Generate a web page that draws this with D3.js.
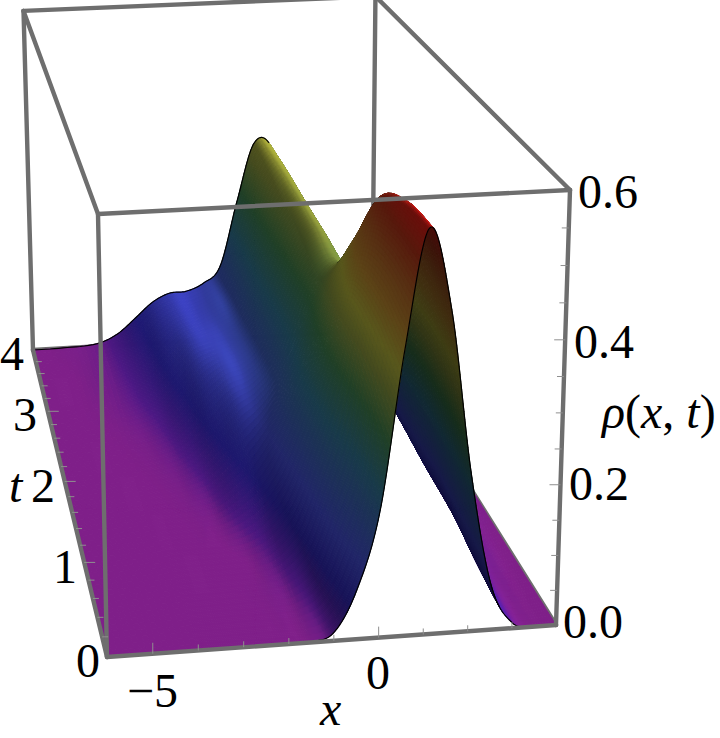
<!DOCTYPE html>
<html>
<head>
<meta charset="utf-8">
<script src="https://cdn.jsdelivr.net/npm/d3@7"></script>
<style>
  html, body { margin: 0; background: #fff; }
  text { font-family: "Liberation Serif", serif; font-size: 48px; fill: #000; }
</style>
</head>
<body>
<svg id="chart" width="720" height="738"></svg>
<script>
// grid the heights were read on
var xGrid = [-6,-5.5,-5,-4.5,-4,-3.5,-3,-2.5,-2,-1.5,-1,-0.5,0,0.5,1,1.5,2,2.5,3,3.5,4];
var tGrid = [0,0.5,1,1.5,2,2.5,3,3.5,4];

// rho(x,t), one array per t row
var rhoT00 = [0,0,0,0,0,0,0,0,0,.001,.012,.07,.18,.40,.56,.45,.225,.065,.008,0,0];
var rhoT05 = [0,0,0,0,0,0,0,0,.001,.006,.035,.12,.22,.42,.55,.47,.26,.08,.012,.001,0];
var rhoT10 = [0,0,0,0,0,0,0,0,.004,.022,.07,.16,.27,.41,.515,.45,.27,.1,.02,.003,0];
var rhoT15 = [0,0,0,0,0,0,.001,.005,.025,.055,.105,.175,.26,.35,.415,.39,.24,.09,.025,.005,.001];
var rhoT20 = [0,0,0,0,0,.001,.005,.02,.05,.085,.11,.15,.225,.295,.325,.30,.20,.09,.03,.008,.002];
var rhoT25 = [0,0,0,0,.001,.004,.015,.04,.075,.1,.11,.14,.22,.305,.335,.275,.18,.09,.035,.012,.004];
var rhoT30 = [0,0,0,.001,.004,.012,.03,.06,.09,.10,.11,.14,.23,.315,.34,.26,.16,.09,.04,.02,.008];
var rhoT35 = [0,0,0,.002,.006,.018,.04,.07,.09,.095,.11,.135,.235,.335,.345,.25,.15,.09,.05,.025,.01];
var rhoT40 = [0,0,.001,.002,.007,.022,.048,.075,.09,.092,.105,.135,.25,.352,.345,.24,.16,.11,.07,.04,.015];
var rhoRows = [rhoT00,rhoT05,rhoT10,rhoT15,rhoT20,rhoT25,rhoT30,rhoT35,rhoT40];

// height colour ramp
var colorRho = [0,.012,.05,.1,.2,.27,.33,.37,.42,.47,.52,.57];
var colorHex = ["#7d1f87","#5a1c98","#2c24a8","#3f48c8","#2f6f8c","#3d7a4a","#84903a","#aaa836","#b0802c","#a85c24","#a83018","#d81515"];

var xMinor = d3.range(-6,4.01,1);
var tMinor = d3.range(0,4.01,0.2);
var rhoMinor = d3.range(0,0.601,0.05);
var rhoMajor = [0,0.2,0.4,0.6];

var xScale = d3.scaleLinear().domain([-6,4]).range([0,1]);
var tScale = d3.scaleLinear().domain([0,4]).range([0,1]);
var rScale = d3.scaleLinear().domain([0,0.6]).range([0,1]);
var colorScale = d3.scaleLinear().domain(colorRho).range(colorHex).interpolate(d3.interpolateRgb);

// box corners on the page, projection is solved from them
var A = [107,657], B = [556,625], C = [33,350], D = [98,214], E = [570,190];
var pg = 0.0211, ph = 0.336, pi = -0.04935;
function sub(p,q){ return [p[0]-q[0],p[1]-q[1]]; }
function mul(p,k){ return [p[0]*k,p[1]*k]; }
var pb = sub(mul(B,1+pg),A), pc = sub(mul(C,1+ph),A), pd = sub(mul(D,1+pi),A);

function depth(u,v,w){ return 1+pg*u+ph*v+pi*w; }
function project(x,t,r)
{
	var u = xScale(x), v = tScale(t), w = rScale(r);
	var k = depth(u,v,w);
	return [(A[0]+pb[0]*u+pc[0]*v+pd[0]*w)/k, (A[1]+pb[1]*u+pc[1]*v+pd[1]*w)/k];
}

// Catmull-Rom through the read values, only to draw a smooth sheet
function spline(p0,p1,p2,p3,s)
{
	return 0.5*(2*p1+(p2-p0)*s+(2*p0-5*p1+4*p2-p3)*s*s+(3*p1-p0-3*p2+p3)*s*s*s);
}
function at(arr,i){ return arr[Math.max(0,Math.min(arr.length-1,i))]; }
function rhoAlongX(row,x)
{
	var f = (x-xGrid[0])/0.5, i = Math.max(0,Math.min(Math.floor(f),xGrid.length-2));
	return spline(at(row,i-1),at(row,i),at(row,i+1),at(row,i+2),f-i);
}
function rho(x,t)
{
	var f = t/0.5, j = Math.max(0,Math.min(Math.floor(f),tGrid.length-2)), s = f-j;
	var v = spline(rhoAlongX(at(rhoRows,j-1),x),rhoAlongX(at(rhoRows,j),x),rhoAlongX(at(rhoRows,j+1),x),rhoAlongX(at(rhoRows,j+2),x),s);
	return Math.max(0,v);
}

var svg = d3.select("#chart");
var boxColor = "#6e6e6e";
var line = d3.line();

function edge(layer,p,q)
{
	layer.append("path").attr("d",line([p,q])).attr("stroke",boxColor).attr("stroke-width",4.4)
		.attr("stroke-linecap","round").attr("fill","none");
}

var back = svg.append("g");
edge(back,project(-6,4,0),project(4,4,0));
edge(back,project(4,4,0),project(4,4,0.6));
edge(back,project(4,0,0),project(4,4,0));
edge(back,project(-6,4,0),project(-6,4,0.6));
edge(back,project(-6,4,0.6),project(4,4,0.6));

// surface cells, far ones first. finer where the sheet is steep
var dt = 1/16;
var xs = d3.range(-6,-4,1/8).concat(d3.range(-4,-1.5,1/24),d3.range(-1.5,3.5,1/48),d3.range(3.5,4+1/32,1/16));
var ts = d3.range(0,4+dt/2,dt);
var grid = ts.map(function(t){ return xs.map(function(x){ return rho(x,t); }); });
var L = [0.5,-0.1,0.85], V = [0,-0.7,0.7];
var cells = [];
var wide = 0.14;	// normals are taken over this width so the shading has no bands
for(var j = 0; j < ts.length-1; j++)
	for(var i = 0; i < xs.length-1; i++)
	{
		var r00 = grid[j][i], r10 = grid[j][i+1], r01 = grid[j+1][i], r11 = grid[j+1][i+1];
		var pts = [project(xs[i],ts[j],r00),project(xs[i+1],ts[j],r10),project(xs[i+1],ts[j+1],r11),project(xs[i],ts[j+1],r01)];
		var upper = d3.polygonArea(pts) > 0;
		var rm = (r00+r10+r01+r11)/4;
		var xa = Math.max(-6,xs[i]-wide), xb = Math.min(4,xs[i]+wide), ta = Math.max(0,ts[j]-wide), tb = Math.min(4,ts[j]+wide);
		var du = (rScale(rho(xb,ts[j]))-rScale(rho(xa,ts[j])))/(xScale(xb)-xScale(xa));
		var dv = (rScale(rho(xs[i],tb))-rScale(rho(xs[i],ta)))/(tScale(tb)-tScale(ta));
		var n = [-du,-dv,1], len = Math.hypot(n[0],n[1],n[2]);
		n = n.map(function(a){ return a/len*(upper?1:-1); });
		var lit = Math.max(0,n[0]*L[0]+n[1]*L[1]+n[2]*L[2]);
		var shade = (upper?0.52:0.36)+0.58*lit;
		if(upper && n[0] > 0) shade += 0.9*Math.pow(1-Math.max(0,n[0]*V[0]+n[1]*V[1]+n[2]*V[2]),4);
		var c = d3.rgb(colorScale(rm));
		var fill = d3.rgb(c.r*shade,c.g*shade,c.b*shade).formatHex();
		cells.push({d:"M"+pts.join("L")+"Z", fill:fill, z:depth(xScale(xs[i]),tScale(ts[j]),rScale(rm))});
	}
cells.sort(function(a,b){ return b.z-a.z; });

svg.append("g").selectAll("path").data(cells).enter().append("path")
	.attr("d",function(d){ return d.d; })
	.attr("fill",function(d){ return d.fill; })
	.attr("stroke",function(d){ return d.fill; })
	.attr("stroke-width",1);

// black boundary lines
var outline = svg.append("g").attr("fill","none").attr("stroke","#000").attr("stroke-width",1.2);
outline.append("path").attr("d",line(xs.map(function(x){ return project(x,0,rho(x,0)); })));
outline.append("path").attr("d",line(xs.filter(function(x){ return x <= 0.95; }).map(function(x){ return project(x,4,rho(x,4)); })));

var front = svg.append("g");
edge(front,project(-6,0,0),project(4,0,0));
edge(front,project(-6,0,0),project(-6,4,0));
edge(front,project(-6,0,0),project(-6,0,0.6));
edge(front,project(4,0,0),project(4,0,0.6));
edge(front,project(-6,0,0.6),project(4,0,0.6));
edge(front,project(-6,0,0.6),project(-6,4,0.6));
edge(front,project(4,0,0.6),project(4,4,0.6));

// ticks
var ticks = svg.append("g").attr("stroke","#8f8f8f").attr("stroke-width",1);
function tick(p,dxp,dyp)
{
	ticks.append("line").attr("x1",p[0]).attr("y1",p[1]).attr("x2",p[0]+dxp).attr("y2",p[1]+dyp);
}
xMinor.slice(1,-1).forEach(function(x){ var big = (x%5==0); tick(project(x,0,0),0,big?-11:-6); });
tMinor.slice(1,-1).forEach(function(t){ var big = (Math.abs(t-Math.round(t))<1e-6); tick(project(-6,t,0),big?11:6,0); });
rhoMinor.slice(1,-1).forEach(function(r){ var big = rhoMajor.some(function(m){ return Math.abs(m-r)<1e-6; }); tick(project(4,0,r),big?-11:-7,0); });

// labels
var rhoLabels = ["0.0","0.2","0.4","0.6"], rhoLabelX = [563,569,574,578], rhoLabelY = [638,500,358,208];
var tLabels = ["0","1","2","3","4"], tLabelX = [76,53,31,13,0], tLabelY = [677,583,502,431,370];
var xLabels = ["\u22125","0"], xLabelX = [127,366], xLabelY = [707,689];

function label(s,x,y){ return svg.append("text").attr("x",x).attr("y",y).text(s); }
rhoLabels.forEach(function(s,i){ label(s,rhoLabelX[i],rhoLabelY[i]); });
tLabels.forEach(function(s,i){ label(s,tLabelX[i],tLabelY[i]); });
xLabels.forEach(function(s,i){ label(s,xLabelX[i],xLabelY[i]); });
label("t",9,502).style("font-style","italic");
label("x",320,725).style("font-style","italic");

var rhoText = svg.append("text").attr("x",602).attr("y",428);
rhoText.append("tspan").style("font-style","italic").text("\u03C1");
rhoText.append("tspan").text("(");
rhoText.append("tspan").style("font-style","italic").text("x");
rhoText.append("tspan").text(", ");
rhoText.append("tspan").style("font-style","italic").text("t");
rhoText.append("tspan").text(")");
</script>
</body>
</html>
